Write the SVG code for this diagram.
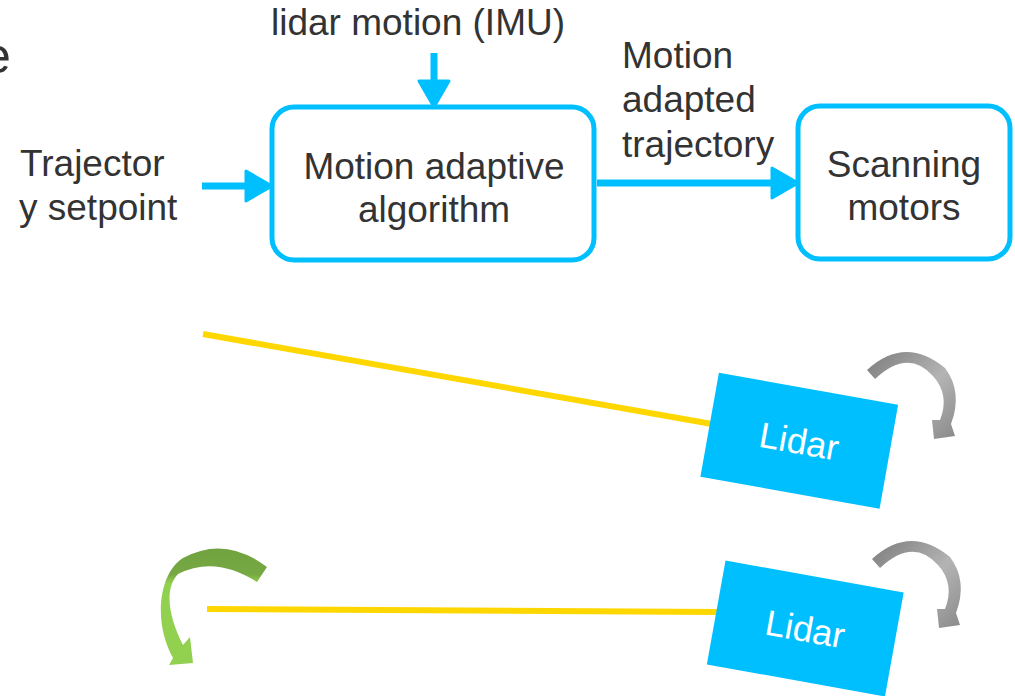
<svg xmlns="http://www.w3.org/2000/svg" width="1015" height="696" viewBox="0 0 1015 696">
<style>
.t{font-family:"Liberation Sans",Arial,sans-serif;font-size:37px;fill:#333333}
.box{fill:#ffffff;stroke:#00BFFF;stroke-width:5}
.conn{stroke:#00BFFF;stroke-width:7;fill:none}
.beam{stroke:#FFD700;stroke-width:6;fill:none}
.lidar{fill:#00BFFF}
.lt{font-family:"Liberation Sans",Arial,sans-serif;font-size:36px;fill:#ffffff}
</style>
<defs>
<marker id="ah" markerUnits="userSpaceOnUse" viewBox="0 0 30 34" refX="8" refY="17" markerWidth="30" markerHeight="34" orient="auto">
<path d="M2,2 L28,17 L2,32 Z" fill="#00BFFF" stroke="#00BFFF" stroke-width="3" stroke-linejoin="round"/>
</marker>
<linearGradient id="gray" x1="0" y1="0" x2="1" y2="1">
<stop offset="0" stop-color="#7c7c7c"/>
<stop offset="0.55" stop-color="#b4b4b4"/>
<stop offset="1" stop-color="#8a8a8a"/>
</linearGradient>
<linearGradient id="green" x1="0" y1="0" x2="0" y2="1">
<stop offset="0" stop-color="#70A23F"/>
<stop offset="0.22" stop-color="#76A843"/>
<stop offset="0.3" stop-color="#92D050"/>
<stop offset="1" stop-color="#92D050"/>
</linearGradient>
<path id="garrow" d="M867,370 Q905,335 945,368 Q963,392 951,424 L955,436 L934,439 L932,420 L940,420 Q950,395 933,376 Q908,348 875,379 Z"/>
</defs>

<text class="t" x="-17" y="73" style="font-size:50px">e</text>

<g id="connectors">
<line class="conn" x1="434" y1="53" x2="434" y2="87" marker-end="url(#ah)"/>
<line class="conn" x1="202" y1="186" x2="252" y2="186" marker-end="url(#ah)"/>
<line class="conn" x1="597" y1="183" x2="778" y2="183" marker-end="url(#ah)"/>
</g>

<g id="label-imu">
<text class="t" x="418" y="35" text-anchor="middle">lidar motion (IMU)</text>
</g>
<g id="label-setpoint">
<text class="t" x="20" y="176">Trajector</text>
<text class="t" x="19" y="220">y setpoint</text>
</g>
<g id="label-adapted">
<text class="t" x="622" y="68">Motion</text>
<text class="t" x="622" y="112">adapted</text>
<text class="t" x="622" y="157">trajectory</text>
</g>

<g id="node-algorithm">
<rect class="box" x="272" y="107" width="322" height="153" rx="22" ry="22"/>
<text class="t" x="434" y="179" text-anchor="middle">Motion adaptive</text>
<text class="t" x="434" y="222" text-anchor="middle">algorithm</text>
</g>

<g id="node-motors">
<rect class="box" x="798" y="106" width="212" height="153" rx="22" ry="22"/>
<text class="t" x="904" y="177" text-anchor="middle">Scanning</text>
<text class="t" x="904" y="220" text-anchor="middle">motors</text>
</g>

<g id="scene-1">
<line class="beam" x1="203" y1="334" x2="712" y2="424"/>
<g id="lidar-1" transform="translate(799.25,440.75) rotate(10.1)">
<rect class="lidar" x="-91" y="-52.8" width="182" height="105.6"/>
<text class="lt" x="0" y="13" text-anchor="middle">Lidar</text>
</g>
<use href="#garrow" fill="url(#gray)"/>
</g>

<g id="scene-2">
<path d="M267,567 Q225,535 183,558 C160,572 152,620 173,658 L169,665 L193,663 L190,637 L183,645 C170,620 163,590 178,574 Q215,555 257,582 Z" fill="url(#green)"/>
<line class="beam" x1="207" y1="609" x2="718" y2="612"/>
<g id="lidar-2" transform="translate(805.25,628.5) rotate(10.2)">
<rect class="lidar" x="-90.5" y="-52.8" width="181" height="105.6"/>
<text class="lt" x="0" y="13" text-anchor="middle">Lidar</text>
</g>
<use href="#garrow" fill="url(#gray)" transform="translate(5,189)"/>
</g>
</svg>
